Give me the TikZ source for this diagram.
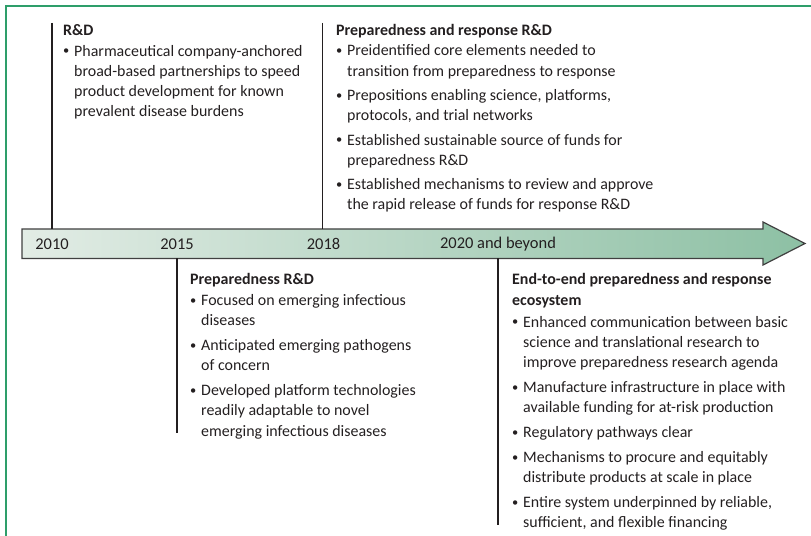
\documentclass[tikz,border=0pt]{standalone}
\usepackage{fontspec}
\setmainfont{Carlito}
\usepackage{tikz}
\usetikzlibrary{
  positioning,
  calc
}
\definecolor{framegreen}{RGB}{46,158,106}
\definecolor{bandleft}{RGB}{226,236,229}
\definecolor{bandright}{RGB}{141,192,164}
\definecolor{inkgrey}{RGB}{35,31,32}
\newcommand{\bul}{\makebox[11bp][l]{\raisebox{0.15ex}{\fontsize{12.5}{12.5}\selectfont\textbullet}}}
\newcommand{\ind}{\makebox[11bp]{}}

\begin{document}
\begin{tikzpicture}[
      x=1bp, y=-1bp,
      block/.style={
         align=left,
         inner sep=0pt,
         text=inkgrey,
         font=\fontsize{16}{20.4}\selectfont
      },
      year/.style={
         inner sep=0pt,
         text=inkgrey,
         font=\fontsize{16.5}{18}\selectfont
      },
      tick/.style={line width=1.2bp, draw=inkgrey},
      band/.style={line width=1.2bp, draw=black!75,
         left color=bandleft, right color=bandright},
      frame/.style={line width=2bp, draw=framegreen}
    ]
    \useasboundingbox (0,0) rectangle (811,536);
    \draw[frame] (6,536) -- (6,6) -- (811,6);

    % timeline band
    \coordinate (bodytop) at (0,229);
    \coordinate (bodybot) at (0,258.5);
    \coordinate (mid) at (0,244);
    \draw[band] (22,229) -- (763,229) -- (763,222) -- (805,243.5)
       -- (763,265) -- (763,258.5) -- (22,258.5) -- cycle;

    % ticks
    \coordinate (t2010) at (52,23);
    \coordinate (t2018) at (322.5,23);
    \coordinate (t2015) at (177,433);
    \coordinate (t2020) at (498,525);
    \draw[tick] (t2010) -- (t2010 |- bodytop);
    \draw[tick] (t2018) -- (t2018 |- bodytop);
    \draw[tick] (t2015 |- bodybot) -- (t2015);
    \draw[tick] (t2020 |- bodybot) -- (t2020);

    % years
    \node (y2010) [year] at (t2010 |- mid) {2010};
    \node (y2015) [year] at (t2015 |- mid) {2015};
    \node (y2018) [year] at ([xshift=1bp]t2018 |- mid) {2018};
    \node (y2020) [year] at (t2020 |- mid) {2020 and beyond};

    % texts above
    \node (rd) [block, below right=1.5bp and 11bp of t2010] {%
      \textbf{R\&D}\\
      \bul Pharmaceutical company-anchored\\
      \ind broad-based partnerships to speed\\
      \ind product development for known\\
      \ind prevalent disease burdens};
    \node (prr) [block, below right=1bp and 13.5bp of t2018] {%
      \textbf{Preparedness and response R\&D}\\
      \bul Preidentified core elements needed to\\
      \ind transition from preparedness to response\\[4bp]
      \bul Prepositions enabling science, platforms,\\
      \ind protocols, and trial networks\\[4bp]
      \bul Established sustainable source of funds for\\
      \ind preparedness R\&D\\[4bp]
      \bul Established mechanisms to review and approve\\
      \ind the rapid release of funds for response R\&D};

    % texts below
    \node (prep) [block, below right=15bp and 13bp of t2015 |- bodybot] {%
      \textbf{Preparedness R\&D}\\
      \bul Focused on emerging infectious\\
      \ind diseases\\[4.5bp]
      \bul Anticipated emerging pathogens\\
      \ind of concern\\[4.5bp]
      \bul Developed platform technologies\\
      \ind readily adaptable to novel\\
      \ind emerging infectious diseases};
    \node (eco) [block, below right=15bp and 14bp of t2020 |- bodybot] {%
      \textbf{End-to-end preparedness and response}\\
      \textbf{ecosystem}\\[1.5bp]
      \bul Enhanced communication between basic\\
      \ind science and translational research to\\
      \ind improve preparedness research agenda\\[4.5bp]
      \bul Manufacture infrastructure in place with\\
      \ind available funding for at-risk production\\[4.5bp]
      \bul Regulatory pathways clear\\[4.5bp]
      \bul Mechanisms to procure and equitably\\
      \ind distribute products at scale in place\\[4.5bp]
      \bul Entire system underpinned by reliable,\\
      \ind sufficient, and flexible financing};
\end{tikzpicture}
\end{document}
